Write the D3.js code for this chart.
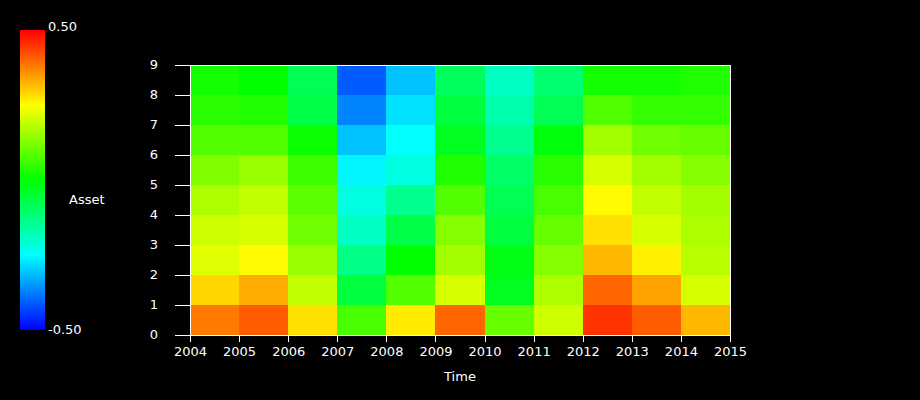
<!DOCTYPE html>
<html>
<head>
<meta charset="utf-8">
<script src="https://cdn.jsdelivr.net/npm/d3@7"></script>
<style>
  html, body { margin: 0; padding: 0; background: #000; }
  svg { display: block; }
  text { font-family: "DejaVu Sans", sans-serif; font-size: 13px; fill: #fff; }
</style>
</head>
<body>
<svg id="chart" width="920" height="400"></svg>
<script>
// ---- data ----
const years = [2004, 2005, 2006, 2007, 2008, 2009, 2010, 2011, 2012, 2013, 2014];
const yearTicks = [2004, 2005, 2006, 2007, 2008, 2009, 2010, 2011, 2012, 2013, 2014, 2015];
const rowTicks = [0, 1, 2, 3, 4, 5, 6, 7, 8, 9];
// values per year, rows 0 (bottom) .. 8 (top)
const v2004 = [0.38, 0.29, 0.22, 0.20, 0.17, 0.125, 0.08, 0.04, 0.02];
const v2005 = [0.41, 0.33, 0.255, 0.21, 0.19, 0.15, 0.08, 0.03, 0.00];
const v2006 = [0.28, 0.19, 0.15, 0.11, 0.09, 0.06, 0.01, -0.07, -0.08];
const v2007 = [0.07, -0.06, -0.13, -0.19, -0.22, -0.26, -0.31, -0.37, -0.41];
const v2008 = [0.27, 0.08, 0.00, -0.07, -0.14, -0.22, -0.25, -0.28, -0.31];
const v2009 = [0.40, 0.21, 0.16, 0.13, 0.08, 0.03, -0.03, -0.06, -0.09];
const v2010 = [0.10, -0.03, -0.02, -0.06, -0.08, -0.10, -0.14, -0.17, -0.19];
const v2011 = [0.20, 0.17, 0.13, 0.10, 0.07, 0.04, -0.01, -0.08, -0.11];
const v2012 = [0.45, 0.40, 0.32, 0.28, 0.255, 0.21, 0.16, 0.08, 0.02];
const v2013 = [0.41, 0.34, 0.265, 0.21, 0.19, 0.16, 0.11, 0.05, 0.02];
const v2014 = [0.32, 0.21, 0.18, 0.17, 0.16, 0.13, 0.10, 0.05, 0.03];
const valuesByYear = [v2004, v2005, v2006, v2007, v2008, v2009, v2010, v2011, v2012, v2013, v2014];
const colorDomain = [-0.5, -0.25, 0, 0.25, 0.5];
const colorRange = ["#0000ff", "#00ffff", "#00ff00", "#ffff00", "#ff0000"];
const legendTicks = [-0.5, 0.5];
const xTitle = "Time";
const legendTitle = "Asset";

// ---- build ----
const cells = [];
years.forEach((yr, i) => valuesByYear[i].forEach((v, r) => cells.push({ year: yr, row: r, value: v })));

const svg = d3.select("#chart");
const x = d3.scaleLinear().domain([2004, 2015]).range([190, 730]);
const y = d3.scaleLinear().domain([0, 9]).range([335, 65]);
const color = d3.scaleLinear().domain(colorDomain).range(colorRange).clamp(true);

svg.append("g").attr("shape-rendering", "crispEdges")
  .selectAll("rect").data(cells).join("rect")
  .attr("x", d => x(d.year))
  .attr("y", d => y(d.row + 1))
  .attr("width", d => x(d.year + 1) - x(d.year))
  .attr("height", d => y(d.row) - y(d.row + 1))
  .attr("fill", d => color(d.value));

// frame
svg.append("rect")
  .attr("x", x(2004) + 0.5).attr("y", y(9) + 0.5)
  .attr("width", x(2015) - x(2004)).attr("height", y(0) - y(9))
  .attr("fill", "none").attr("stroke", "#fff").attr("shape-rendering", "crispEdges");

// axes
const xAxis = d3.axisBottom(x).tickValues(yearTicks).tickFormat(d3.format("d")).tickSize(7).tickPadding(5);
const gx = svg.append("g").attr("transform", `translate(0,${y(0)})`).call(xAxis);
const yAxis = d3.axisLeft(y).tickValues(rowTicks).tickFormat(d3.format("d")).tickSize(15).tickPadding(17);
const gy = svg.append("g").attr("transform", `translate(${x(2004)},0)`).call(yAxis);
[gx, gy].forEach(g => {
  g.select(".domain").remove();
  g.selectAll("line").attr("stroke", "#fff").attr("shape-rendering", "crispEdges");
  g.selectAll("text").attr("fill", "#fff").style("font-family", "DejaVu Sans").style("font-size", "13px");
});
gy.selectAll("text").attr("dy", "0.25em");

svg.append("text").attr("x", 460).attr("y", 381).attr("text-anchor", "middle").text(xTitle);

// colorbar
const cb = d3.scaleLinear().domain([-0.5, 0.5]).range([330, 30]);
const grad = svg.append("defs").append("linearGradient").attr("id", "cbgrad")
  .attr("x1", 0).attr("y1", 1).attr("x2", 0).attr("y2", 0);
grad.selectAll("stop").data(colorDomain).join("stop")
  .attr("offset", d => (d + 0.5))
  .attr("stop-color", d => color(d));
svg.append("rect").attr("x", 20).attr("y", cb(0.5)).attr("width", 25)
  .attr("height", cb(-0.5) - cb(0.5)).attr("fill", "url(#cbgrad)");
const fmt = d3.format(".2f");
const cbAxis = d3.axisRight(cb).tickValues(legendTicks)
  .tickFormat(d => fmt(d).replace("\u2212", "-")).tickSize(0).tickPadding(3);
const gcb = svg.append("g").attr("transform", "translate(45,0)").call(cbAxis);
gcb.select(".domain").remove();
gcb.selectAll("text").attr("fill", "#fff").style("font-family", "DejaVu Sans").style("font-size", "13px")
  .attr("dy", d => d > 0 ? "0.05em" : "0.3em");
svg.append("text").attr("x", 69).attr("y", 204).text(legendTitle);
</script>
</body>
</html>
